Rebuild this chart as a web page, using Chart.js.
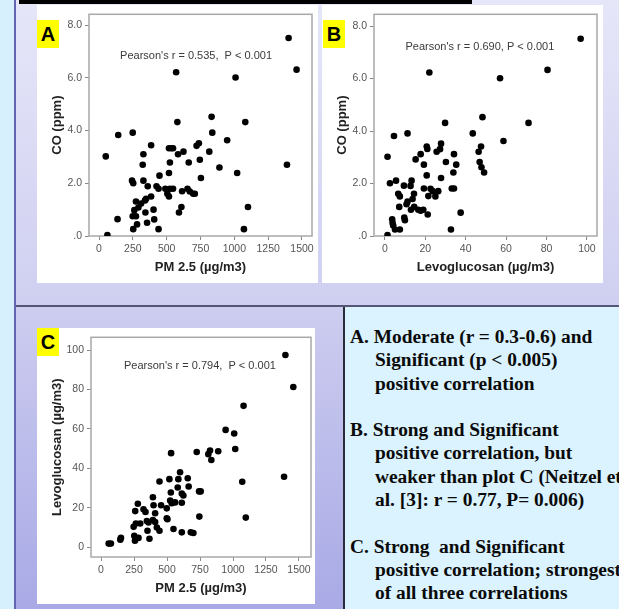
<!DOCTYPE html>
<html>
<head>
<meta charset="utf-8">
<script src="https://cdn.jsdelivr.net/npm/chart.js@4.4.1/dist/chart.umd.min.js"></script>
<style>
  body { margin: 0; width: 619px; height: 609px; overflow: hidden; position: relative; background: #d6f1fd; font-family: "Liberation Sans", Arial, sans-serif; }
  .abs { position: absolute; }
  #topArea { left: 16px; top: 0; width: 603px; height: 305px; background: linear-gradient(#e6e6f9, #cfcff1); }
  #leftLine { left: 14px; top: 0; width: 2px; height: 609px; background: #6464b4; }
  #hLine { left: 16px; top: 305px; width: 603px; height: 2px; background: #555577; }
  #botArea { left: 16px; top: 307px; width: 327px; height: 302px; background: linear-gradient(#cdcdf0, #a9a9e6); }
  #vLine { left: 343px; top: 307px; width: 2px; height: 302px; background: #2a2a3a; }
  #textArea { left: 345px; top: 307px; width: 274px; height: 302px; background: #daf3fe; }
  #bar { left: 19px; top: 0; width: 453px; height: 4px; background: #000; }
  .panel { background: #fff; }
  .tag { background: #ffff00; font: bold 20px "Liberation Sans", Arial, sans-serif; color: #000; text-align: center; line-height: 28px; width: 22px; height: 28px; }
  #notes { left: 350px; top: 325px; font: bold 19.4px "Liberation Serif", "Times New Roman", serif; line-height: 23.3px; color: #0a0a0a; white-space: pre; }
  #notes .ind { padding-left: 25px; }
</style>
</head>
<body>
<div id="topArea" class="abs"></div>
<div id="leftLine" class="abs"></div>
<div id="hLine" class="abs"></div>
<div id="botArea" class="abs"></div>
<div id="vLine" class="abs"></div>
<div id="textArea" class="abs"></div>
<div id="bar" class="abs"></div>

<div class="abs panel" style="left:37px;top:5px;width:281px;height:278px;"><canvas id="chartA" width="281" height="278"></canvas></div>
<div class="abs panel" style="left:322px;top:5px;width:281px;height:278px;"><canvas id="chartB" width="281" height="278"></canvas></div>
<div class="abs panel" style="left:37px;top:328px;width:278px;height:276px;"><canvas id="chartC" width="278" height="276"></canvas></div>

<div class="abs tag" style="left:37px;top:20px;">A</div>
<div class="abs tag" style="left:323px;top:20px;">B</div>
<div class="abs tag" style="left:37px;top:328px;">C</div>

<div id="notes" class="abs">A. Moderate (r = 0.3-0.6) and
<span class="ind">Significant (p &lt; 0.005)</span>
<span class="ind">positive correlation</span>

B. Strong and Significant
<span class="ind">positive correlation, but</span>
<span class="ind">weaker than plot C (Neitzel et</span>
<span class="ind">al. [3]: r = 0.77, P= 0.006)</span>

C. Strong  and Significant
<span class="ind">positive correlation; strongest</span>
<span class="ind">of all three correlations</span></div>

<script>
// --- data ---
// A: PM 2.5 vs CO
const pmA = [62,50,142,249,137,244,253,328,385,323,328,360,447,517,534,547,579,584,624,524,517,663,745,721,738,815,832,837,947,1081,890,1021,753,425,440,490,505,517,524,547,614,654,671,696,708,385,348,340,311,273,291,261,249,273,281,343,403,355,408,253,440,609,591,1071,1101,1401,1460,570,1009,1389];
const coA = [0.04,3.02,3.83,3.92,0.64,2.10,2.00,3.10,3.44,2.70,2.10,1.89,2.29,3.33,3.33,3.33,4.32,3.10,3.20,2.79,2.39,2.79,2.89,3.42,3.52,3.20,4.52,3.92,3.63,4.32,2.60,2.39,2.20,1.89,1.79,1.79,1.60,1.50,1.79,1.79,1.70,1.79,1.69,1.60,1.60,1.50,1.41,1.35,1.23,1.31,1.08,0.98,0.75,0.75,0.44,0.89,1.00,0.50,0.63,0.26,0.26,1.10,0.89,0.26,1.10,7.51,6.31,6.21,6.01,2.70];

// B: Levoglucosan vs CO
const levoB = [96.9,80.5,57.0,22.0,71.1,48.3,29.8,43.5,58.7,4.5,11.2,20.7,21.0,27.8,27.3,25.6,17.7,15.2,1.3,34.2,47.6,46.4,19.3,30.2,35.3,46.9,47.8,49.1,33.9,20.7,27.8,5.5,2.5,13.2,9.4,12.7,19.3,22.6,23.6,26.4,33.1,34.2,21.5,25.0,14.4,6.6,7.4,13.7,11.2,10.7,12.9,14.5,7.1,16.5,17.7,19.0,21.2,37.5,9.6,9.9,3.6,3.8,4.1,5.0,7.4,32.7,1.3];
const coB = [7.52,6.33,6.01,6.23,4.31,4.53,4.31,3.91,3.62,3.81,3.91,3.41,3.32,3.52,3.31,3.21,3.12,2.92,3.02,3.12,3.41,3.21,2.72,2.82,2.72,2.82,2.62,2.42,2.42,2.31,2.21,2.11,2.01,2.11,1.92,1.91,1.81,1.80,1.71,1.71,1.81,1.81,1.52,1.51,1.61,1.61,1.51,1.41,1.31,1.21,1.00,1.11,1.11,1.00,0.96,1.00,0.82,0.89,0.70,0.60,0.64,0.50,0.40,0.25,0.25,0.25,0.04];

// C: PM 2.5 vs Levoglucosan
const pmC = [1397,1457,1080,944,1009,1017,888,826,813,836,725,531,1387,1070,1097,599,586,657,518,443,664,581,529,612,624,743,755,393,524,536,561,612,455,398,279,498,322,337,259,410,393,498,503,745,264,297,347,360,410,247,423,443,352,549,612,680,700,252,267,284,257,367,151,146,58,75];
const levoC = [97.5,81.3,71.7,59.5,57.7,49.8,48.7,49.0,47.2,44.2,48.3,47.7,35.7,33.2,15.0,38.0,34.5,35.0,34.5,33.3,30.8,30.3,27.7,27.2,26.2,28.3,28.3,25.3,23.7,22.3,22.7,22.5,21.3,21.3,22.0,19.7,19.2,17.8,18.3,17.2,13.8,14.7,14.2,15.5,12.0,12.0,13.3,12.5,12.8,10.3,10.0,8.3,8.3,9.2,7.5,7.5,7.2,5.8,4.5,4.7,3.3,4.3,4.7,3.8,1.8,1.8];

// tick values and labels
const pmTicks = [0, 250, 500, 750, 1000, 1250, 1500];
const pmTickLabels = ['0', '250', '500', '750', '1000', '1250', '1500'];
const levoXTicks = [0, 20, 40, 60, 80, 100];
const levoXTickLabels = ['0', '20', '40', '60', '80', '100'];
const coTicks = [0, 2, 4, 6, 8];
const coTickLabels = ['.0', '2.0', '4.0', '6.0', '8.0'];
const levoYTicks = [0, 20, 40, 60, 80, 100];
const levoYTickLabels = ['0', '20', '40', '60', '80', '100'];

const pearsonA = "Pearson's r = 0.535,  P < 0.001";
const pearsonB = "Pearson's r = 0.690, P < 0.001";
const pearsonC = "Pearson's r = 0.794,  P < 0.001";

// frame round the plot area + the Pearson note
const framePlugin = {
    id: 'frame',
    beforeDatasetsDraw(chart) {
        const a = chart.chartArea;
        const c = chart.ctx;
        c.save();
        c.strokeStyle = '#a8a8a8';
        c.lineWidth = 1.5;
        c.strokeRect(a.left, a.top, a.right - a.left, a.bottom - a.top);
        const note = chart.options.plugins.frame;
        c.fillStyle = '#3a3a3a';
        c.font = '11px "Liberation Sans", Arial, sans-serif';
        c.textAlign = 'center';
        c.textBaseline = 'middle';
        c.fillText(note.text, a.left + (a.right - a.left) * note.fx, a.top + note.dy);
        c.restore();
    }
};

function axis(opts) {
    return {
        type: 'linear',
        position: opts.position,
        min: opts.min,
        max: opts.max,
        afterBuildTicks: (ax) => { ax.ticks = opts.ticks.map(v => ({ value: v })); },
        afterFit: (ax) => {
            if (opts.position === 'left') ax.width = opts.size; else ax.height = opts.size;
        },
        border: { display: false },
        grid: { display: true, drawOnChartArea: false, drawTicks: true, tickLength: 4, color: '#888' },
        ticks: {
            padding: 3,
            color: '#555',
            maxRotation: 0,
            autoSkip: false,
            font: { size: 10.5, family: '"Liberation Sans", Arial, sans-serif' },
            callback: (v, i) => opts.labels[i]
        },
        title: {
            display: true,
            text: opts.title,
            color: '#222',
            font: { size: 13, weight: 'bold', family: '"Liberation Sans", Arial, sans-serif' },
            padding: opts.position === 'left' ? { top: 13, bottom: 0 } : { top: 0, bottom: 8 }
        }
    };
}

function makeChart(id, xs, ys, xAxis, yAxis, note, pad) {
    const pts = xs.map((x, i) => ({ x: x, y: ys[i] }));
    return new Chart(document.getElementById(id).getContext('2d'), {
        type: 'scatter',
        data: {
            datasets: [{
                data: pts,
                pointRadius: 3.3,
                pointHoverRadius: 3.3,
                backgroundColor: '#000',
                borderWidth: 0
            }]
        },
        options: {
            responsive: false,
            animation: false,
            layout: { padding: pad },
            plugins: {
                legend: { display: false },
                tooltip: { enabled: false },
                frame: note
            },
            scales: { x: xAxis, y: yAxis }
        },
        plugins: [framePlugin]
    });
}

makeChart('chartA', pmA, coA,
    axis({ position: 'bottom', min: -74, max: 1574, ticks: pmTicks, labels: pmTickLabels, title: 'PM 2.5 (µg/m3)', size: 47 }),
    axis({ position: 'left', min: 0, max: 8.41, ticks: coTicks, labels: coTickLabels, title: 'CO (ppm)', size: 52 }),
    { text: pearsonA, fx: 0.48, dy: 42 },
    { top: 7, right: 6, left: 0, bottom: 0 });

makeChart('chartB', levoB, coB,
    axis({ position: 'bottom', min: -5.4, max: 105, ticks: levoXTicks, labels: levoXTickLabels, title: 'Levoglucosan (µg/m3)', size: 47 }),
    axis({ position: 'left', min: 0, max: 8.45, ticks: coTicks, labels: coTickLabels, title: 'CO (ppm)', size: 52 }),
    { text: pearsonB, fx: 0.475, dy: 33 },
    { top: 7, right: 6, left: 0, bottom: 0 });

makeChart('chartC', pmC, levoC,
    axis({ position: 'bottom', min: -76, max: 1591, ticks: pmTicks, labels: pmTickLabels, title: 'PM 2.5 (µg/m3)', size: 47 }),
    axis({ position: 'left', min: -5, max: 106.5, ticks: levoYTicks, labels: levoYTickLabels, title: 'Levoglucosan (µg/m3)', size: 54 }),
    { text: pearsonC, fx: 0.495, dy: 29 },
    { top: 6, right: 4, left: 0, bottom: 0 });
</script>
</body>
</html>
